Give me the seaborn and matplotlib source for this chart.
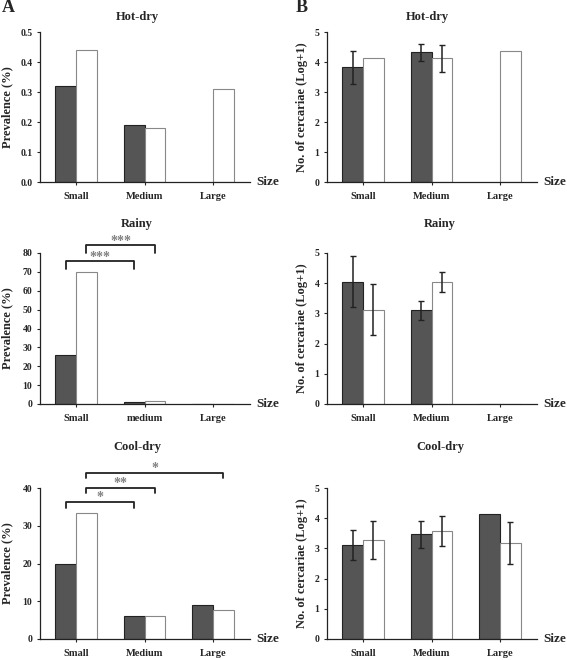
import numpy as np
import pandas as pd
import matplotlib
matplotlib.use("Agg")
import matplotlib.pyplot as plt
import seaborn as sns

sns.set_theme(style="ticks")
plt.rcParams["font.family"] = ["Liberation Serif", "DejaVu Serif"]
plt.rcParams["font.weight"] = "bold"

# data
sizes = ["Small", "Medium", "Large"]
sizes_rainy_a = ["Small", "medium", "Large"]
groups = ["dark", "white"]

# panel A: prevalence (%)
prev_hot_dark = [0.32, 0.19, np.nan]
prev_hot_white = [0.44, 0.18, 0.31]
prev_rainy_dark = [26.0, 1.2, 0.0]
prev_rainy_white = [70.0, 1.5, 0.0]
prev_cool_dark = [20.0, 6.2, 9.0]
prev_cool_white = [33.3, 6.2, 7.8]

# panel B: no. of cercariae (log+1), with error half-widths
cerc_hot_dark = [3.82, 4.32, np.nan]
cerc_hot_dark_err = [0.55, 0.29, np.nan]
cerc_hot_white = [4.12, 4.12, 4.37]
cerc_hot_white_err = [np.nan, 0.46, np.nan]
cerc_rainy_dark = [4.05, 3.10, 0.0]
cerc_rainy_dark_err = [0.84, 0.32, np.nan]
cerc_rainy_white = [3.12, 4.05, 0.0]
cerc_rainy_white_err = [0.85, 0.33, np.nan]
cerc_cool_dark = [3.12, 3.47, 4.15]
cerc_cool_dark_err = [0.50, 0.45, np.nan]
cerc_cool_white = [3.28, 3.57, 3.17]
cerc_cool_white_err = [0.64, 0.49, 0.70]

W, H = 567, 660
fig = plt.figure(figsize=(W / 100, H / 100), dpi=100)
BAR_W = 0.6


def rect(left, top, right, bottom):
    return [left / W, 1 - bottom / H, (right - left) / W, (bottom - top) / H]


def make_df(cats, dark, white):
    return pd.DataFrame({
        "size": cats * 2,
        "group": ["dark"] * 3 + ["white"] * 3,
        "value": list(dark) + list(white),
    })


def draw(ax, cats, dark, white, ymax, ystep, ylabel, title, title_y, fmt,
         dark_err=None, white_err=None, label_x=-0.12, title_x=None):
    df = make_df(cats, dark, white)
    sns.barplot(data=df, x="size", y="value", hue="group", hue_order=groups,
                order=cats, palette={"dark": "#555555", "white": "white"},
                width=BAR_W, errorbar=None, legend=False, ax=ax, saturation=1)
    for i, cont in enumerate(ax.containers):
        for p in cont.patches:
            p.set_edgecolor("#222222" if i == 0 else "#888888")
            p.set_linewidth(0.8)
    offsets = [-BAR_W / 4, BAR_W / 4]
    for off, vals, err in zip(offsets, [dark, white], [dark_err, white_err]):
        if err is None:
            continue
        xs = np.arange(len(vals)) + off
        ax.errorbar(xs, vals, yerr=err, fmt="none", ecolor="#222222",
                    elinewidth=1.1, capsize=2.5, capthick=1)
    ax.set_xlim(-0.526, 2.54)
    ax.set_ylim(0, ymax)
    ticks = np.arange(0, ymax + ystep / 2, ystep)
    ax.set_yticks(ticks)
    ax.set_yticklabels([fmt.format(v) for v in ticks])
    ax.set_xlabel("")
    ax.set_ylabel(ylabel, fontsize=9, fontweight="bold")
    ax.yaxis.set_label_coords(label_x, 0.5)
    ax.tick_params(axis="y", labelsize=7, length=2.5, width=0.8, pad=3)
    ax.tick_params(axis="x", labelsize=7.5, length=2.5, width=0.8, pad=5)
    for lab in ax.get_xticklabels() + ax.get_yticklabels():
        lab.set_fontweight("bold")
    sns.despine(ax=ax)
    for s in ["left", "bottom"]:
        ax.spines[s].set_color("#222222")
        ax.spines[s].set_linewidth(0.9)
    ax.text(1.03, 0, "Size", transform=ax.transAxes, ha="left", va="center",
            fontsize=9.5, fontweight="bold")
    bb = ax.get_position()
    tx = title_x if title_x is not None else bb.x0 + bb.width / 2
    fig.text(tx, 1 - title_y / H, title, ha="center", va="center",
             fontsize=9, fontweight="bold")


def bracket(ax, x1, x2, y, drop, label):
    ax.plot([x1, x1, x2, x2], [y - drop, y, y, y - drop], color="#222222",
            lw=1.3, clip_on=False)
    ax.annotate(label, xy=((x1 + x2) / 2, y), xytext=(0, 3),
                textcoords="offset points", ha="center", va="center",
                fontsize=10, color="#808080", annotation_clip=False)


col_a = (40, 250)
col_b = (327, 537)
rows = [(32, 182), (253, 404), (488, 639)]
lab_a = -0.125
lab_b = -0.09

ax1 = fig.add_axes(rect(col_a[0], rows[0][0], col_a[1], rows[0][1]))
draw(ax1, sizes, prev_hot_dark, prev_hot_white, 0.5, 0.1, "Prevalence (%)",
     "Hot-dry", 17, "{:.1f}", label_x=lab_a, title_x=137 / W)

ax2 = fig.add_axes(rect(col_b[0], rows[0][0], col_b[1], rows[0][1]))
draw(ax2, sizes, cerc_hot_dark, cerc_hot_white, 5, 1, "No. of cercariae (Log+1)",
     "Hot-dry", 17, "{:.0f}", cerc_hot_dark_err, cerc_hot_white_err,
     label_x=lab_b, title_x=427 / W)

ax3 = fig.add_axes(rect(col_a[0], rows[1][0], col_a[1], rows[1][1]))
draw(ax3, sizes_rainy_a, prev_rainy_dark, prev_rainy_white, 80, 10, "Prevalence (%)",
     "Rainy", 224, "{:.0f}", label_x=lab_a, title_x=137 / W)
bracket(ax3, -0.15, 0.85, 75.5, 4, "***")
bracket(ax3, 0.15, 1.15, 84, 4, "***")

ax4 = fig.add_axes(rect(col_b[0], rows[1][0], col_b[1], rows[1][1]))
draw(ax4, sizes, cerc_rainy_dark, cerc_rainy_white, 5, 1, "No. of cercariae (Log+1)",
     "Rainy", 224, "{:.0f}", cerc_rainy_dark_err, cerc_rainy_white_err,
     label_x=lab_b, title_x=440 / W)

ax5 = fig.add_axes(rect(col_a[0], rows[2][0], col_a[1], rows[2][1]))
draw(ax5, sizes, prev_cool_dark, prev_cool_white, 40, 10, "Prevalence (%)",
     "Cool-dry", 447, "{:.0f}", label_x=lab_a, title_x=137 / W)
bracket(ax5, -0.15, 0.85, 36.3, 1.6, "*")
bracket(ax5, 0.15, 1.15, 40.0, 1.4, "**")
bracket(ax5, 0.15, 2.15, 44.0, 1.4, "*")

ax6 = fig.add_axes(rect(col_b[0], rows[2][0], col_b[1], rows[2][1]))
draw(ax6, sizes, cerc_cool_dark, cerc_cool_white, 5, 1, "No. of cercariae (Log+1)",
     "Cool-dry", 447, "{:.0f}", cerc_cool_dark_err, cerc_cool_white_err,
     label_x=lab_b, title_x=440 / W)

fig.text(2 / W, 1 - 8 / H, "A", ha="left", va="center", fontsize=13, fontweight="bold")
fig.text(296 / W, 1 - 8 / H, "B", ha="left", va="center", fontsize=13, fontweight="bold")

fig.savefig("out.png", dpi=100, facecolor="white")
